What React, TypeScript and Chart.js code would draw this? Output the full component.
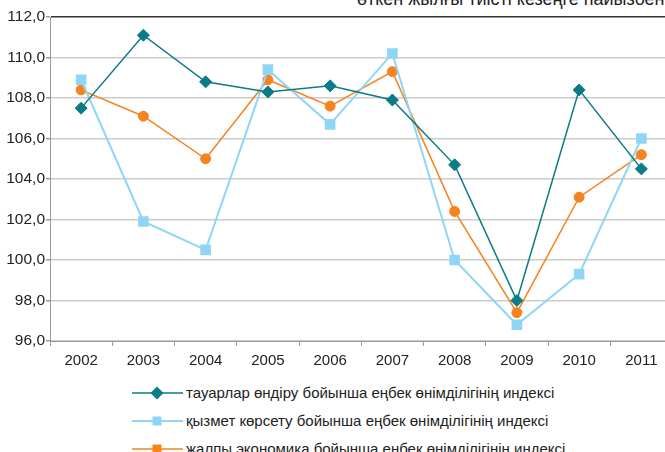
import React, { useEffect, useRef } from "react";
import { Chart, registerables } from "chart.js";

Chart.register(...registerables);

const years = ["2002", "2003", "2004", "2005", "2006", "2007", "2008", "2009", "2010", "2011"];
const goodsIndex = [107.5, 111.1, 108.8, 108.3, 108.6, 107.9, 104.7, 98.0, 108.4, 104.5];
const servicesIndex = [108.9, 101.9, 100.5, 109.4, 106.7, 110.2, 100.0, 96.8, 99.3, 106.0];
const economyIndex = [108.4, 107.1, 105.0, 108.9, 107.6, 109.3, 102.4, 97.4, 103.1, 105.2];
const seriesLabels = [
  "тауарлар өндіру бойынша еңбек өнімділігінің индексі",
  "қызмет көрсету бойынша еңбек өнімділігінің индексі",
  "жалпы экономика бойынша еңбек өнімділігінің индексі",
];
const titleText = "өткен жылғы тиісті кезеңге пайызбен";
const yMin = 96;
const yMax = 112;
const yStep = 2;

const TEAL = "#0b7b88";
const LIGHT = "#8fd6f6";
const ORANGE = "#f5831f";
const FONT = "'Liberation Sans', Arial, sans-serif";

function LegendRow({ color, shape, label, top, lineW }: { color: string; shape: string; label: string; top: number; lineW: number }) {
  let marker: React.ReactNode = null;
  if (shape === "diamond") {
    marker = <polygon points="25,0.5 31.5,7 25,13.5 18.5,7" fill={color} />;
  } else {
    marker = <rect x={20.5} y={2.5} width={9} height={9} fill={color} />;
  }
  return (
    <div style={{ position: "absolute", left: 132, top: top - 8, height: 16, display: "flex", alignItems: "center", whiteSpace: "nowrap" }}>
      <svg width={51} height={14} style={{ display: "block" }}>
        <line x1={0} y1={7} x2={51} y2={7} stroke={color} strokeWidth={lineW} />
        {marker}
      </svg>
      <span style={{ marginLeft: 3, font: `15px ${FONT}`, color: "#222", lineHeight: "16px" }}>{label}</span>
    </div>
  );
}

export default function App() {
  const canvasRef = useRef<HTMLCanvasElement | null>(null);

  useEffect(() => {
    document.body.style.margin = "0";
    document.body.style.overflow = "hidden";
    const canvas = canvasRef.current;
    if (!canvas) return;
    const chart = new Chart(canvas, {
      type: "line",
      data: {
        labels: years,
        datasets: [
          {
            label: seriesLabels[0],
            data: goodsIndex,
            borderColor: TEAL,
            backgroundColor: TEAL,
            borderWidth: 1.5,
            pointStyle: "rectRot",
            pointRadius: 6,
            pointBorderWidth: 1,
            pointBorderColor: TEAL,
            pointBackgroundColor: TEAL,
            tension: 0,
          },
          {
            label: seriesLabels[1],
            data: servicesIndex,
            borderColor: LIGHT,
            backgroundColor: LIGHT,
            borderWidth: 2,
            pointStyle: "rect",
            pointRadius: 7.5,
            pointBorderWidth: 0,
            pointBackgroundColor: LIGHT,
            tension: 0,
          },
          {
            label: seriesLabels[2],
            data: economyIndex,
            borderColor: ORANGE,
            backgroundColor: ORANGE,
            borderWidth: 1.5,
            pointStyle: "circle",
            pointRadius: 5,
            pointBorderWidth: 1,
            pointBorderColor: ORANGE,
            pointBackgroundColor: ORANGE,
            tension: 0,
          },
        ],
      },
      options: {
        animation: false,
        responsive: false,
        devicePixelRatio: 1,
        layout: { padding: { top: 17, left: 0, right: 0, bottom: 0 } },
        plugins: { legend: { display: false }, tooltip: { enabled: false }, title: { display: false } },
        scales: {
          x: {
            type: "category",
            offset: true,
            grid: { display: true, drawOnChartArea: false, drawTicks: true, tickLength: 5, color: "#9a9a9a", offset: true },
            border: { display: true, color: "#9a9a9a", width: 1 },
            ticks: { color: "#222", font: { family: FONT, size: 15 }, padding: 6, maxRotation: 0, autoSkip: false },
          },
          y: {
            min: yMin,
            max: yMax,
            afterFit: (scale: any) => {
              scale.width = 50;
            },
            grid: {
              color: (ctx: any) => (ctx.tick && ctx.tick.value === yMax ? "#333333" : "#cccccc"),
              lineWidth: 1.5,
              tickLength: 4,
              tickColor: "#9a9a9a",
            },
            border: { display: true, color: "#9a9a9a", width: 1 },
            ticks: {
              stepSize: yStep,
              color: "#222",
              padding: 1,
              font: { family: FONT, size: 15.5 },
              callback: (v: any) => Number(v).toFixed(1).replace(".", ","),
            },
          },
        },
      },
    });
    return () => chart.destroy();
  }, []);

  return (
    <div style={{ position: "fixed", left: 0, top: 0, width: 665, height: 452, overflow: "hidden", background: "#fff" }}>
      <div style={{ position: "absolute", left: 357, top: -10, font: `18px ${FONT}`, lineHeight: "18px", color: "#222", whiteSpace: "nowrap" }}>
        {titleText}
      </div>
      <canvas ref={canvasRef} width={680} height={376} style={{ position: "absolute", left: 0, top: 0, width: 680, height: 376 }} />
      <LegendRow color={TEAL} shape="diamond" label={seriesLabels[0]} top={393} lineW={1.5} />
      <LegendRow color={LIGHT} shape="square" label={seriesLabels[1]} top={421} lineW={2} />
      <LegendRow color={ORANGE} shape="square" label={seriesLabels[2]} top={449} lineW={1.5} />
    </div>
  );
}
